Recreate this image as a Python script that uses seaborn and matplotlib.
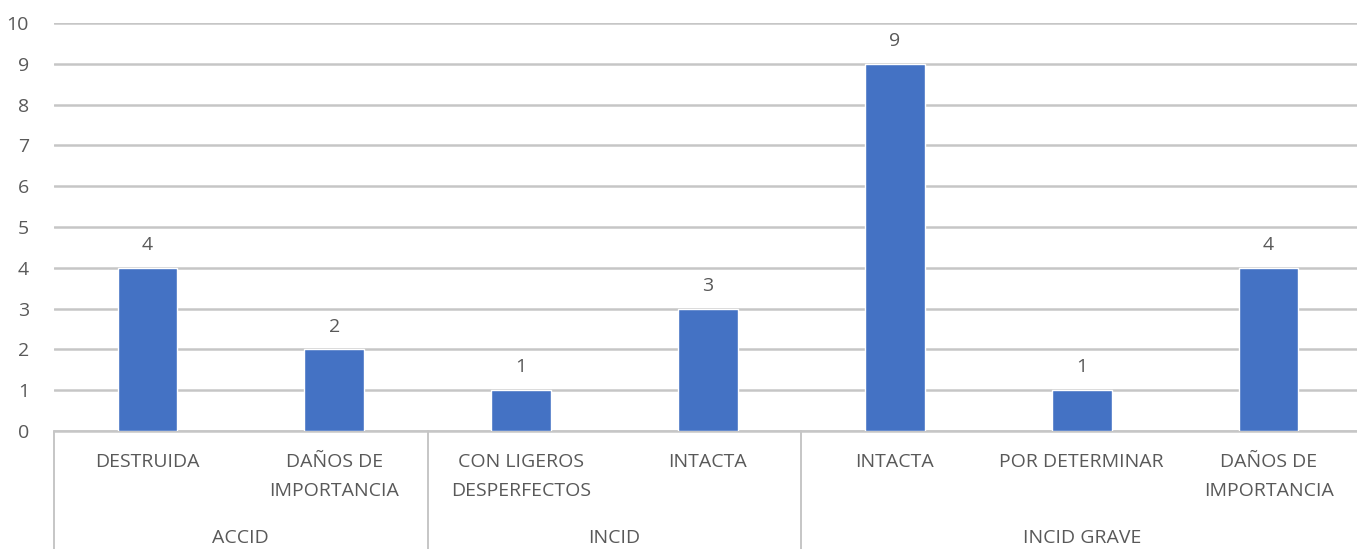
import matplotlib
matplotlib.use("Agg")
import matplotlib.pyplot as plt
import matplotlib.transforms as mtransforms
import seaborn as sns
import pandas as pd

# Aircraft damage by event type
groups = ["ACCID", "ACCID", "INCID", "INCID", "INCID GRAVE", "INCID GRAVE", "INCID GRAVE"]
damage = ["DESTRUIDA", "DAÑOS DE\nIMPORTANCIA", "CON LIGEROS\nDESPERFECTOS", "INTACTA",
          "INTACTA", "POR DETERMINAR", "DAÑOS DE\nIMPORTANCIA"]
counts = [4, 2, 1, 3, 9, 1, 4]
group_names = ["ACCID", "INCID", "INCID GRAVE"]

df = pd.DataFrame({"pos": [str(i) for i in range(len(counts))], "count": counts})

sns.set_theme(style="white")
plt.rcParams["font.family"] = ["Open Sans", "DejaVu Sans"]
text_color = "#595959"
grid_color = "#c6c6c6"
fs = 14

fig = plt.figure(figsize=(13.57, 5.49), dpi=100)
ax = fig.add_axes([54 / 1357, 118 / 549, 1308 / 1357, 408 / 549])

sns.barplot(data=df, x="pos", y="count", color="#4472C4", saturation=1,
            width=0.32, ax=ax, zorder=3)

ax.set_ylim(0, 10)
ax.set_xlim(-0.5, len(counts) - 0.5)
ax.set_yticks(range(0, 11))
ax.yaxis.grid(True, color=grid_color, linewidth=1.8, zorder=0)
ax.tick_params(axis="y", length=0, pad=18, labelsize=fs, labelcolor=text_color)
ax.set_xticks([])
ax.set_xlabel("")
ax.set_ylabel("")
for side in ["top", "right", "left"]:
    ax.spines[side].set_visible(False)
ax.spines["bottom"].set_color(grid_color)
ax.spines["bottom"].set_linewidth(1.8)

for container in ax.containers:
    ax.bar_label(container, labels=[str(v) for v in counts], padding=10,
                 fontsize=fs, color=text_color)

# Two-level category axis
trans = mtransforms.blended_transform_factory(ax.transData, fig.transFigure)
for i, lab in enumerate(damage):
    ax.text(i, 1 - 453 / 549, lab, transform=trans, ha="center", va="top",
            fontsize=fs, color=text_color, linespacing=1.8)

bounds = [-0.5]
for i in range(1, len(groups)):
    if groups[i] != groups[i - 1]:
        bounds.append(i - 0.5)
bounds.append(len(groups) - 0.5)

for b in bounds:
    ax.plot([b, b], [1 - 431 / 549, 0], transform=trans, color=grid_color,
            linewidth=1.4, clip_on=False)

for g, lo, hi in zip(group_names, bounds[:-1], bounds[1:]):
    ax.text((lo + hi) / 2, 1 - 538 / 549, g, transform=trans, ha="center",
            va="center", fontsize=fs, color=text_color)

fig.savefig("out.png", dpi=100)
